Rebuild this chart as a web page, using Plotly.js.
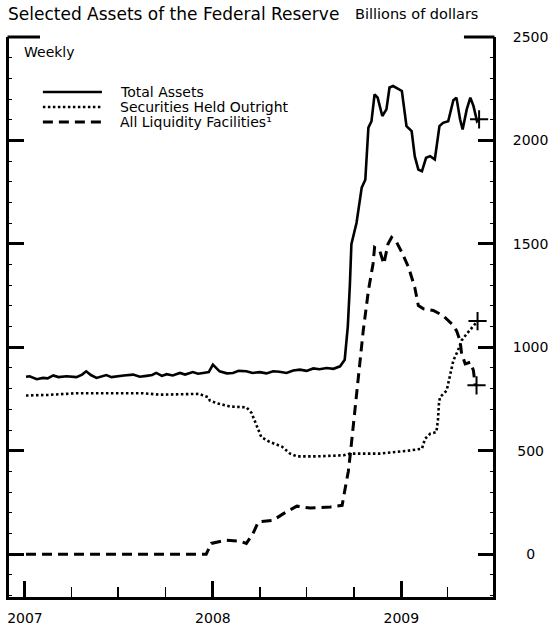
<!DOCTYPE html>
<html>
<head>
<meta charset="utf-8">
<script src="https://cdn.plot.ly/plotly-3.0.1.min.js"></script>
<style>html,body{margin:0;padding:0;background:#fff;}#chart{width:552px;height:626px;}</style>
</head>
<body>
<div id="chart"></div>
<script>
// ---- Data (billions of dollars, weekly) ----
var totalDates = ['2007-01-03','2007-01-10','2007-01-24','2007-02-05','2007-02-14','2007-02-25','2007-03-07','2007-03-23','2007-04-11','2007-04-22','2007-04-30','2007-05-09','2007-05-20','2007-05-30','2007-06-08','2007-06-18','2007-06-28','2007-07-12','2007-07-30','2007-08-12','2007-08-25','2007-09-05','2007-09-13','2007-09-24','2007-10-03','2007-10-15','2007-10-29','2007-11-08','2007-11-23','2007-12-03','2007-12-13','2007-12-24','2008-01-01','2008-01-08','2008-01-14','2008-01-28','2008-02-09','2008-02-20','2008-03-06','2008-03-18','2008-04-01','2008-04-14','2008-04-27','2008-05-09','2008-05-23','2008-06-05','2008-06-18','2008-07-01','2008-07-14','2008-07-26','2008-08-09','2008-08-22','2008-09-04','2008-09-13','2008-09-19','2008-09-23','2008-09-26','2008-10-06','2008-10-16','2008-10-23','2008-10-29','2008-11-04','2008-11-10','2008-11-16','2008-11-25','2008-12-03','2008-12-09','2008-12-16','2008-12-26','2009-01-02','2009-01-11','2009-01-21','2009-01-27','2009-02-03','2009-02-10','2009-02-18','2009-02-26','2009-03-07','2009-03-16','2009-03-23','2009-04-02','2009-04-12','2009-04-18','2009-04-25','2009-04-30','2009-05-08','2009-05-15','2009-05-21','2009-05-28','2009-06-01'];
var totalAssets = [858,860,846,852,850,864,856,860,856,868,884,866,852,860,866,856,860,864,868,858,862,866,876,862,870,864,876,868,880,872,876,880,916,896,884,874,876,886,884,876,880,874,884,882,876,888,892,886,898,894,900,896,908,940,1100,1300,1499,1602,1772,1810,2062,2093,2223,2207,2118,2150,2256,2263,2247,2239,2069,2045,1924,1859,1851,1916,1924,1908,2069,2085,2093,2194,2207,2102,2053,2150,2207,2167,2093,2102];

var secDates = ['2007-01-03','2007-02-15','2007-04-11','2007-08-18','2007-09-20','2007-12-06','2007-12-13','2007-12-23','2007-12-26','2008-01-08','2008-02-03','2008-03-06','2008-03-16','2008-03-26','2008-04-04','2008-04-20','2008-05-14','2008-05-30','2008-06-12','2008-07-21','2008-09-11','2008-09-23','2008-11-20','2009-01-11','2009-02-10','2009-02-16','2009-02-26','2009-03-10','2009-03-13','2009-03-15','2009-03-17','2009-03-30','2009-04-05','2009-04-12','2009-04-21','2009-04-28','2009-05-08','2009-05-18','2009-05-29'];
var securitiesHeld = [767,770,778,778,771,775,767,759,743,730,714,710,683,620,566,543,520,486,473,473,478,486,486,499,510,558,582,590,647,727,759,791,856,936,985,1033,1065,1097,1127];

var liqDates = ['2007-01-03','2007-12-19','2007-12-29','2008-01-27','2008-02-22','2008-03-06','2008-03-19','2008-03-29','2008-04-27','2008-05-17','2008-06-12','2008-07-08','2008-08-16','2008-09-08','2008-09-14','2008-09-20','2008-09-24','2008-09-28','2008-10-01','2008-10-05','2008-10-09','2008-10-19','2008-10-29','2008-11-07','2008-11-10','2008-11-20','2008-11-28','2008-12-06','2008-12-13','2008-12-23','2009-01-02','2009-01-15','2009-01-27','2009-02-03','2009-02-13','2009-03-04','2009-03-23','2009-04-09','2009-04-18','2009-04-25','2009-04-28','2009-05-05','2009-05-15','2009-05-21','2009-05-24','2009-05-27'];
var liquidityFacilities = [0,0,52,68,63,52,100,156,164,196,232,223,228,236,320,400,486,582,650,743,872,1081,1274,1403,1483,1467,1403,1499,1531,1507,1459,1387,1290,1202,1186,1178,1153,1113,1081,1033,969,920,928,888,824,816];

var seriesNames = ['Total Assets', 'Securities Held Outright', 'All Liquidity Facilities\u00B9'];
var yTickVals = [0, 500, 1000, 1500, 2000, 2500];
var yTickText = ['\u2007\u20080', '\u2008500', '1000', '1500', '2000', '2500'];
var xTickVals = ['2007-01-01', '2008-01-01', '2009-01-01'];
var xTickText = ['2007', '2008', '2009'];

var FONT = '"DejaVu Sans", Verdana, sans-serif';
var styles = [
  {color: '#000', width: 2.6, dash: 'solid'},
  {color: '#000', width: 2.6, dash: '2.5px,2.5px'},
  {color: '#000', width: 3, dash: '10px,6px'}
];

function last(a) { return a[a.length - 1]; }

var traces = [
  {x: totalDates, y: totalAssets, type: 'scatter', mode: 'lines', name: seriesNames[0], line: styles[0]},
  {x: secDates, y: securitiesHeld, type: 'scatter', mode: 'lines', name: seriesNames[1], line: styles[1]},
  {x: liqDates, y: liquidityFacilities, type: 'scatter', mode: 'lines', name: seriesNames[2], line: styles[2]},
  {x: [last(totalDates), last(secDates), last(liqDates)],
   y: [last(totalAssets), last(securitiesHeld), last(liquidityFacilities)],
   type: 'scatter', mode: 'markers', showlegend: false, hoverinfo: 'skip',
   marker: {symbol: 'cross-thin', size: 13, line: {color: '#000', width: 2}}}
];

// custom legend (line samples + labels)
var legendY = [0.9018, 0.875, 0.8482];
var shapes = [];
var annotations = [];
for (var i = 0; i < 3; i++) {
  shapes.push({type: 'line', xref: 'paper', yref: 'paper', x0: 0.070, x1: 0.192, y0: legendY[i], y1: legendY[i],
               line: {color: styles[i].color, width: styles[i].width, dash: styles[i].dash}});
  annotations.push({xref: 'paper', yref: 'paper', x: 0.227, y: legendY[i], xanchor: 'left', yanchor: 'middle',
                    borderpad: 0,
                    text: seriesNames[i], showarrow: false, font: {family: FONT, size: 14, color: '#000'}});
}
// top corner marks of the frame
shapes.push({type: 'line', xref: 'paper', yref: 'paper', x0: -0.003, x1: 0.064, y0: 1, y1: 1, line: {color: '#000', width: 3}});
shapes.push({type: 'line', xref: 'paper', yref: 'paper', x0: 0.94, x1: 1.003, y0: 1, y1: 1, line: {color: '#000', width: 3}});

annotations.push({xref: 'paper', yref: 'paper', x: 0.027, y: 0.973, xanchor: 'left', yanchor: 'middle',
                  text: 'Weekly', showarrow: false, font: {family: FONT, size: 14, color: '#000'}});
annotations.push({xref: 'paper', yref: 'paper', x: 0.711, y: 1.041, xanchor: 'left', yanchor: 'middle',
                  text: 'Billions of dollars', showarrow: false, font: {family: FONT, size: 14.5, color: '#000'}});

var layout = {
  width: 552, height: 626,
  margin: {l: 9, r: 59, t: 37, b: 29, pad: 0},
  paper_bgcolor: '#fff', plot_bgcolor: '#fff',
  showlegend: false,
  font: {family: FONT, color: '#000'},
  title: {text: 'Selected Assets of the Federal Reserve', font: {family: FONT, size: 17, color: '#000'},
          xref: 'container', yref: 'container', x: 8/552, xanchor: 'left', y: 1 - 14/626, yanchor: 'middle'},
  xaxis: {
    type: 'date', range: ['2006-12-01', '2009-06-28'],
    tickmode: 'array', tickvals: xTickVals, ticktext: xTickText,
    ticks: 'inside', ticklen: 16, tickwidth: 3, tickcolor: '#000',
    showline: true, linewidth: 3, linecolor: '#000', mirror: false,
    showgrid: false, zeroline: false,
    tickfont: {family: FONT, size: 14, color: '#000'},
    ticklabelstandoff: 6,
    minor: {dtick: 'M3', tick0: '2007-01-01', ticks: 'inside', ticklen: 10, tickwidth: 1.5, tickcolor: '#000', showgrid: false},
    fixedrange: true
  },
  yaxis: {
    range: [-207, 2500], side: 'right',
    tickmode: 'array', tickvals: yTickVals, ticktext: yTickText,
    ticks: 'inside', ticklen: 15, tickwidth: 3, tickcolor: '#000',
    showline: true, linewidth: 3, linecolor: '#000', mirror: 'allticks',
    showgrid: false, zeroline: false,
    tickfont: {family: FONT, size: 14, color: '#000'},
    ticklabelstandoff: 14,
    minor: {dtick: 100, tick0: 0, ticks: 'inside', ticklen: 3, tickwidth: 1, tickcolor: '#000', showgrid: false},
    fixedrange: true
  },
  shapes: shapes,
  annotations: annotations
};

Plotly.newPlot('chart', traces, layout, {displayModeBar: false, staticPlot: true});
</script>
</body>
</html>
